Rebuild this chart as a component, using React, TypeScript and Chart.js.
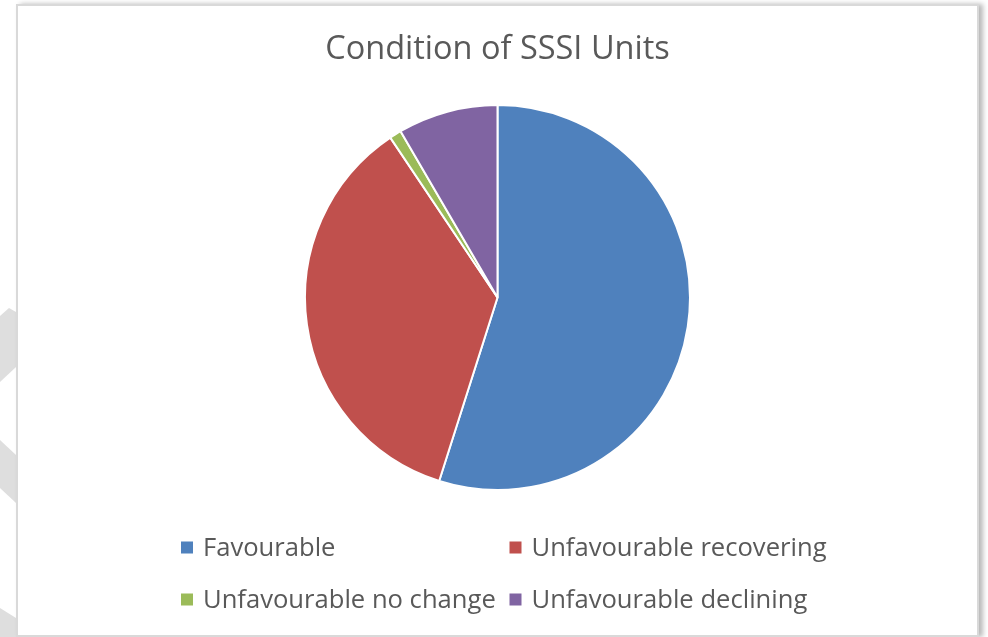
import React, { useEffect, useRef } from "react";
import { Chart, registerables } from "chart.js";

Chart.register(...registerables);

const categories = [
  "Favourable",
  "Unfavourable recovering",
  "Unfavourable no change",
  "Unfavourable declining",
];
const shares = [54.9, 35.7, 1.0, 8.4];
const sliceColors = ["#4f81bd", "#c0504d", "#9bbb59", "#8064a2"];
const chartTitle = "Condition of SSSI Units";

const gridLegend = {
  id: "gridLegend",
  afterDraw(chart: any, _args: any, opts: any) {
    const { ctx } = chart;
    const labels = chart.data.labels as string[];
    const bg = chart.data.datasets[0].backgroundColor as string[];
    ctx.save();
    ctx.font = opts.font;
    ctx.textBaseline = "alphabetic";
    ctx.textAlign = "left";
    labels.forEach((label, i) => {
      const col = i % 2;
      const row = Math.floor(i / 2);
      const x = opts.cols[col];
      const y = opts.rows[row];
      ctx.fillStyle = bg[i];
      ctx.fillRect(x, y - opts.boxOffset, opts.box, opts.box);
      ctx.fillStyle = opts.color;
      ctx.fillText(label, x + opts.gap, y);
    });
    ctx.restore();
  },
};

export default function App() {
  const ref = useRef<HTMLCanvasElement | null>(null);

  useEffect(() => {
    if (!ref.current) return;
    const chart = new Chart(ref.current, {
      type: "pie",
      data: {
        labels: categories,
        datasets: [
          {
            data: shares,
            backgroundColor: sliceColors,
            borderColor: "#ffffff",
            borderWidth: 2,
          },
        ],
      },
      options: {
        responsive: false,
        animation: false,
        devicePixelRatio: 1,
        layout: { padding: { top: 0, bottom: 144, left: 0, right: 0 } },
        plugins: {
          legend: { display: false },
          tooltip: { enabled: false },
          title: {
            display: true,
            text: chartTitle,
            color: "#595959",
            font: { family: "'Open Sans', sans-serif", size: 32.5, weight: "normal" },
            padding: { top: 24, bottom: 35 },
          },
          gridLegend: {
            font: "25.6px 'Open Sans', sans-serif",
            color: "#595959",
            cols: [163, 491.5],
            rows: [550, 602],
            box: 12,
            boxOffset: 14.5,
            gap: 22,
          },
        } as any,
      },
      plugins: [gridLegend],
    });
    return () => chart.destroy();
  }, []);

  return (
    <div
      style={{
        position: "absolute",
        left: 0,
        top: 0,
        width: 988,
        height: 637,
        background: "#ffffff",
        overflow: "hidden",
      }}
    >
      <svg
        width={988}
        height={637}
        style={{ position: "absolute", left: 0, top: 0 }}
      >
        <polygon points="0,316 9,308 16,312 16,367 0,382" fill="#dedede" />
        <polygon points="0,440 16,455 16,503 0,488" fill="#dedede" />
        <polygon points="0,608 16,618 16,637 0,637" fill="#dedede" />
      </svg>
      <div
        style={{
          position: "absolute",
          left: 16,
          top: 4,
          width: 963,
          height: 633,
          boxSizing: "border-box",
          border: "2px solid #d9d9d9",
          background: "#ffffff",
          boxShadow: "4px 0 5px rgba(0,0,0,0.28)",
        }}
      />
      <canvas
        ref={ref}
        width={959}
        height={629}
        style={{ position: "absolute", left: 18, top: 6, width: 959, height: 629 }}
      />
    </div>
  );
}
